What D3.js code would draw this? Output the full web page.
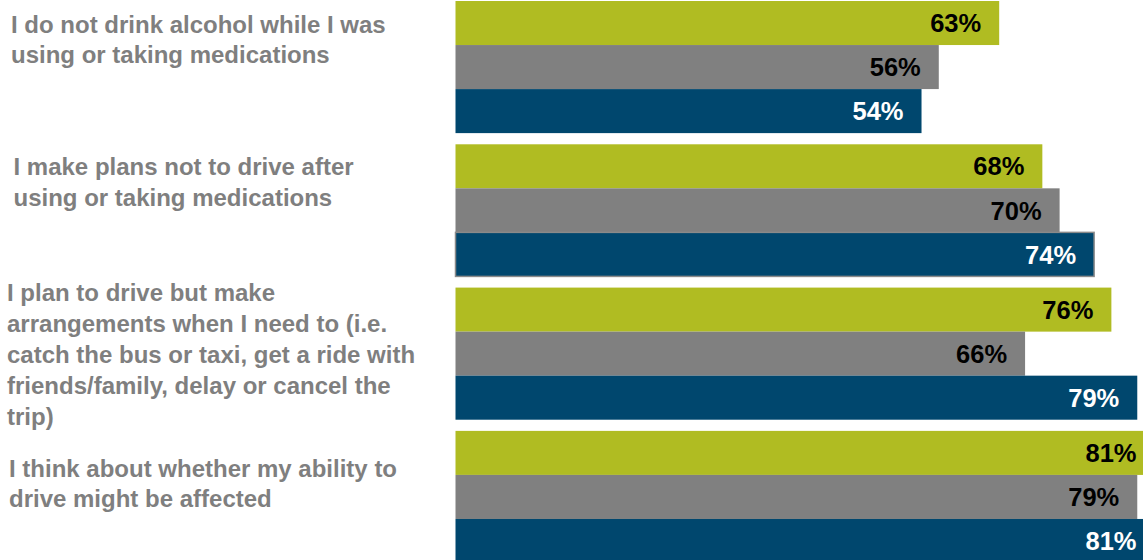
<!DOCTYPE html>
<html>
<head>
<meta charset="utf-8">
<script src="https://cdn.jsdelivr.net/npm/d3@7"></script>
<style>
  html, body { margin: 0; padding: 0; background: #fff; }
  svg { display: block; }
  text { font-family: "Liberation Sans", Arial, Helvetica, sans-serif; font-weight: bold; }
</style>
</head>
<body>
<svg id="chart" width="1143" height="560"></svg>
<script>
// Statements (each one split into its display lines)
const categories = [
  ["I do not drink alcohol while I was", "using or taking medications"],
  ["I make plans not to drive after", "using or taking medications"],
  ["I plan to drive but make", "arrangements when I need to (i.e.", "catch the bus or taxi, get a ride with", "friends/family, delay or cancel the", "trip)"],
  ["I think about whether my ability to", "drive might be affected"]
];
const seriesNames = ["A", "B", "C"];
const seriesA = [63, 68, 76, 81];
const seriesB = [56, 70, 66, 79];
const seriesC = [54, 74, 79, 81];
const seriesValues = [seriesA, seriesB, seriesC];

// Layout
const W = 1143, H = 560;
const colors = ["#b0bc22", "#808080", "#00476e"];
const labelColors = ["#000", "#000", "#fff"];
// Category label placement: left x, first baseline, line spacing
const labelLayout = [
  { x: 11, y: 33, dy: 30 },
  { x: 13.5, y: 175, dy: 30.5 },
  { x: 7, y: 301, dy: 31 },
  { x: 9, y: 476.5, dy: 30 }
];

const svg = d3.select("#chart");

const x = d3.scaleLinear().domain([0, 100]).range([455.5, 455.5 + 863]);
const y0 = d3.scaleBand()
  .domain(d3.range(categories.length))
  .range([1, 563])
  .paddingInner(0.078)
  .paddingOuter(0);
const y1 = d3.scaleBand()
  .domain(seriesNames)
  .range([0, y0.bandwidth()])
  .padding(0);

const rows = [];
categories.forEach((c, gi) => {
  seriesNames.forEach((s, si) => {
    rows.push({ gi, si, s, v: seriesValues[si][gi] });
  });
});

const g = svg.append("g");

g.selectAll("rect.bar")
  .data(rows)
  .join("rect")
  .attr("class", "bar")
  .attr("x", x(0))
  .attr("y", d => y0(d.gi) + y1(d.s))
  .attr("width", d => x(d.v) - x(0))
  .attr("height", y1.bandwidth())
  .attr("fill", d => colors[d.si])
  .attr("stroke", d => (d.gi === 1 && d.si === 2) ? "#8a8a8a" : "none")
  .attr("stroke-width", 1.5);

g.selectAll("text.val")
  .data(rows)
  .join("text")
  .attr("class", "val")
  .attr("x", d => x(d.v) - 18)
  .attr("y", d => y0(d.gi) + y1(d.s) + y1.bandwidth() / 2)
  .attr("dy", "0.36em")
  .attr("text-anchor", "end")
  .attr("font-size", 25.5)
  .attr("fill", d => labelColors[d.si])
  .text(d => d.v + "%");

// Statement labels on the left
const lab = svg.append("g")
  .selectAll("text.cat")
  .data(categories)
  .join("text")
  .attr("class", "cat")
  .attr("font-size", 24)
  .attr("fill", "#7f7f7f")
  .attr("x", (d, i) => labelLayout[i].x)
  .attr("y", (d, i) => labelLayout[i].y);

lab.selectAll("tspan")
  .data((d, i) => d.map((line, li) => ({ line, li, i })))
  .join("tspan")
  .attr("x", d => labelLayout[d.i].x)
  .attr("y", d => labelLayout[d.i].y + d.li * labelLayout[d.i].dy)
  .text(d => d.line);
</script>
</body>
</html>
